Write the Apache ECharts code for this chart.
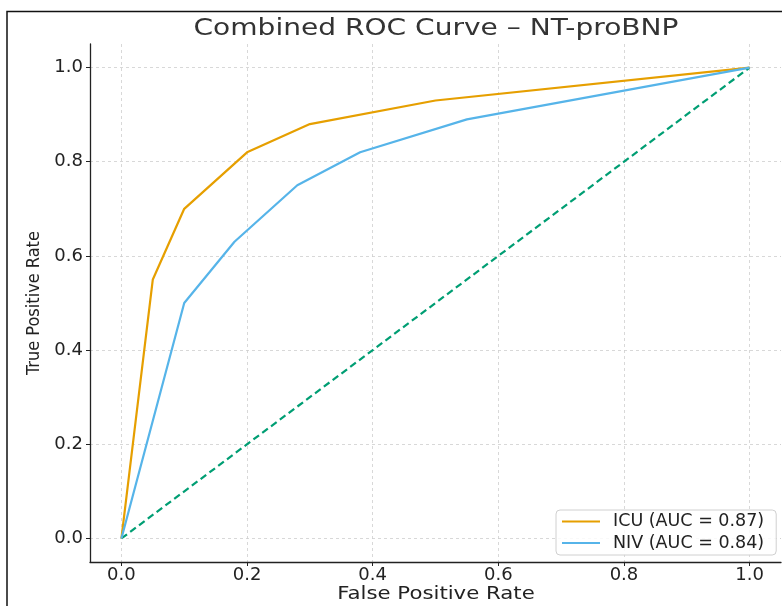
<!DOCTYPE html>
<html>
<head>
<meta charset="utf-8">
<script src="https://cdn.jsdelivr.net/npm/echarts@6/dist/echarts.min.js"></script>
<style>html,body{margin:0;padding:0;background:#fff;overflow:hidden;}#c{width:782px;height:606px;}</style>
</head>
<body>
<div id="c"></div>
<script>
const titleText = 'Combined ROC Curve – NT-proBNP';
const xLabel = 'False Positive Rate';
const yLabel = 'True Positive Rate';
const tickValues = [0, 0.2, 0.4, 0.6, 0.8, 1.0];
const icuFpr = [0, 0.05, 0.10, 0.20, 0.30, 0.50, 1.0];
const icuTpr = [0, 0.55, 0.70, 0.82, 0.88, 0.93, 1.0];
const nivFpr = [0, 0.10, 0.18, 0.28, 0.38, 0.55, 1.0];
const nivTpr = [0, 0.50, 0.63, 0.75, 0.82, 0.89, 1.0];
const diagFpr = [0, 1];
const diagTpr = [0, 1];
const seriesNames = ['ICU (AUC = 0.87)', 'NIV (AUC = 0.84)'];

const zip = (a, b) => a.map((v, i) => [v, b[i]]);
const font = 'DejaVu Sans';
const splitLine = {show: true, lineStyle: {color: '#cfcfcf', type: [3, 3], width: 0.8}};

const chart = echarts.init(document.getElementById('c'), null, {renderer: 'canvas', width: 782, height: 606});
chart.setOption({
  animation: false,
  backgroundColor: '#fff',
  grid: {left: 90, top: 44, width: 691, height: 518, containLabel: false},
  xAxis: {
    type: 'value', min: -0.05, max: 1.05,
    axisLine: {show: true, onZero: false, lineStyle: {color: '#222', width: 1.3}},
    axisTick: {show: true, length: 4, customValues: tickValues, lineStyle: {color: '#222'}},
    axisLabel: {customValues: tickValues, fontFamily: font, fontSize: 18, color: '#222', margin: 4,
      formatter: v => v.toFixed(1)},
    splitLine: splitLine
  },
  yAxis: {
    type: 'value', min: -0.05, max: 1.05,
    name: yLabel, nameLocation: 'middle', nameGap: 43, nameRotate: 90,
    nameTextStyle: {fontFamily: 'DejaVu Sans Condensed', fontSize: 18, color: '#222'},
    axisLine: {show: true, onZero: false, lineStyle: {color: '#222', width: 1.3}},
    axisTick: {show: true, length: 4, customValues: tickValues, lineStyle: {color: '#222'}},
    axisLabel: {customValues: tickValues, fontFamily: font, fontSize: 18, color: '#222', margin: 7,
      formatter: v => v.toFixed(1)},
    splitLine: splitLine
  },
  legend: {
    left: 556, top: 510, orient: 'vertical',
    data: seriesNames.map(n => ({name: n, icon: 'rect'})),
    itemWidth: 38, itemHeight: 2, itemGap: 3.5,
    padding: [2.5, 4, 3, 6],
    borderColor: '#d0d0d0', borderWidth: 1, borderRadius: 4,
    backgroundColor: 'rgba(255,255,255,0.85)',
    textStyle: {fontFamily: font, fontSize: 17.5, lineHeight: 18, color: '#222', padding: [0, 8, 0, 8]}
  },
  graphic: [
    {type: 'text', x: 436, y: 29, scaleX: 1.22, silent: true,
      style: {text: titleText, fontFamily: font, fontSize: 23, fill: '#333', textAlign: 'center', textVerticalAlign: 'middle'}},
    {type: 'text', x: 436, y: 595, scaleX: 1.25, silent: true,
      style: {text: xLabel, fontFamily: font, fontSize: 17, fill: '#222', textAlign: 'center', textVerticalAlign: 'middle'}},
    {type: 'rect', shape: {x: 7, y: 11.5, width: 900, height: 700},
      style: {fill: 'none', stroke: '#111', lineWidth: 1.5}, silent: true, z: 100}
  ],
  series: [
    {name: seriesNames[0], type: 'line', data: zip(icuFpr, icuTpr), symbol: 'none',
      lineStyle: {color: '#E69F00', width: 2.2}, itemStyle: {color: '#E69F00'}, z: 3},
    {name: seriesNames[1], type: 'line', data: zip(nivFpr, nivTpr), symbol: 'none',
      lineStyle: {color: '#56B4E9', width: 2.2}, itemStyle: {color: '#56B4E9'}, z: 3},
    {name: 'diag', type: 'line', data: zip(diagFpr, diagTpr), symbol: 'none',
      lineStyle: {color: '#009E73', width: 2.2, type: [7, 4]}, z: 2}
  ]
});
</script>
</body>
</html>
